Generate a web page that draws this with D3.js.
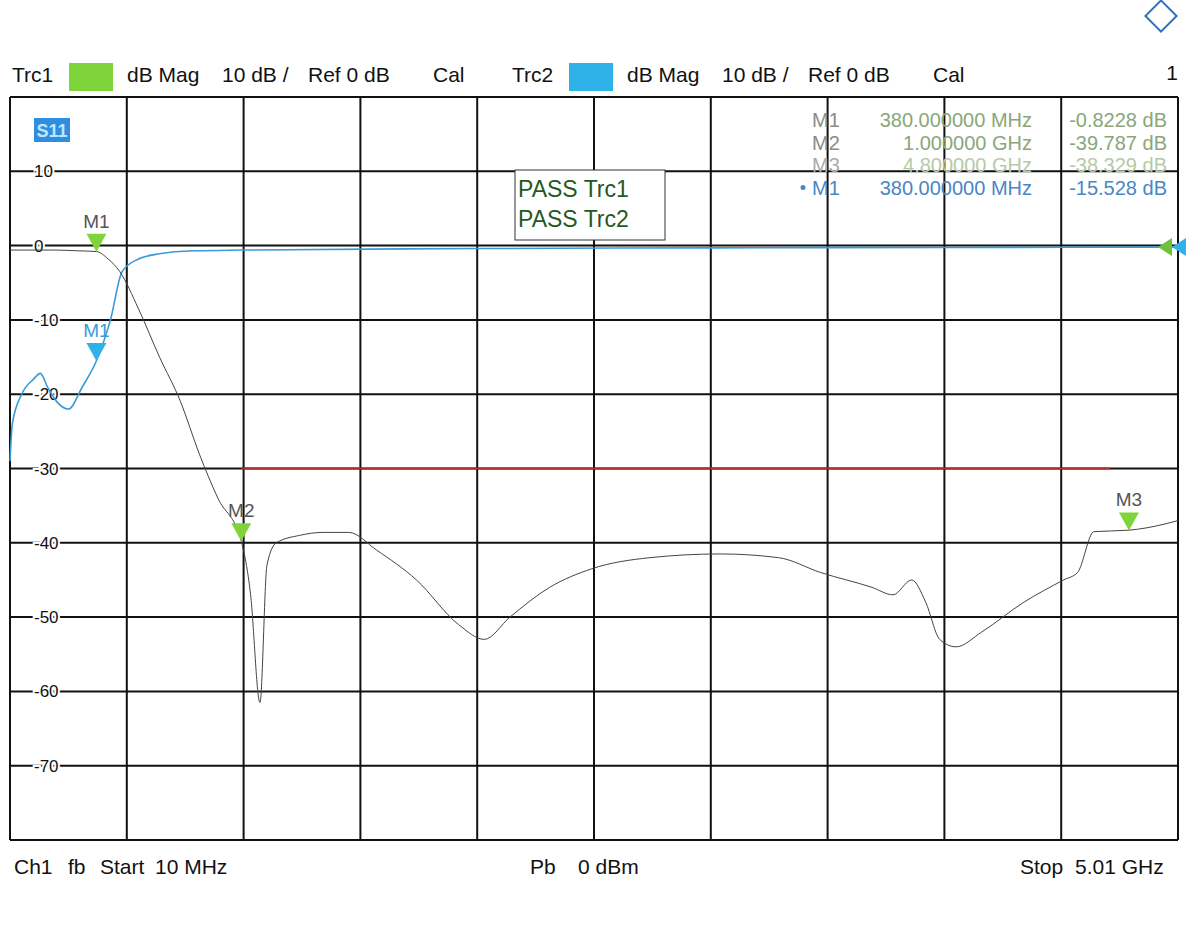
<!DOCTYPE html>
<html><head><meta charset="utf-8">
<script src="https://cdn.jsdelivr.net/npm/d3@7"></script>
<style>body{margin:0;background:#fff}text{font-family:"Liberation Sans",Arial,sans-serif}</style>
</head><body>
<script>
'use strict'
// frequency in MHz, level in dB
const trc1_f = [10,100,200,300,380,430,480,560,650,740,820,900,1000,1040,1080,1110,1150,1250,1350,1460,1580,1750,1930,2040,2150,2320,2500,2750,3050,3300,3480,3700,3790,3870,3930,3990,4060,4170,4350,4520,4580,4650,4800,4950,5010];
const trc1_db = [-0.6,-0.6,-0.6,-0.7,-0.8,-1.8,-3.5,-8.5,-15,-21,-28,-34,-39.8,-47,-61.5,-43,-40,-39,-38.6,-38.6,-41,-45,-51,-53,-50,-46,-43.5,-42,-41.5,-42,-44,-46,-47,-45,-48,-53,-54,-52,-48,-45,-44,-38.5,-38.3,-37.5,-37];
const trc2_f = [10,20,60,110,140,170,210,260,320,380,440,490,560,650,800,1000,2000,3000,4000,5010];
const trc2_db = [-29,-24,-20,-18,-17.2,-19,-21,-22,-19,-15.5,-10,-3.5,-1.8,-1.1,-0.7,-0.6,-0.4,-0.3,-0.25,-0.2];
const y_ticks = [10,0,-10,-20,-30,-40,-50,-60,-70];
const limit_f = [1000,4720], limit_db = -30;
const markers1 = [{n:'M1',f:380,db:-0.8228},{n:'M2',f:1000,db:-39.787},{n:'M3',f:4800,db:-38.329}];
const markers2 = [{n:'M1',f:380,db:-15.528}];
const table = [
  ['M1','380.000000 MHz','-0.8228 dB','#8aa67a','#8a8a8a'],
  ['M2','1.000000 GHz','-39.787 dB','#8aa67a','#8a8a8a'],
  ['M3','4.800000 GHz','-38.329 dB','#b5c9a8','#aaaaaa'],
  ['M1','380.000000 MHz','-15.528 dB','#4a86c5','#4a86c5']
];
const head_words = ['dB Mag','10 dB /','Ref 0 dB','Cal'];
const head_dx = [115,210,296,421];

const svg = d3.select('body').append('svg').attr('width',1190).attr('height',931);
const L=10, R=1178, T=97, B=840;
const x = d3.scaleLinear().domain([10,5010]).range([L,R]);
const y = d3.scaleLinear().domain([20,-80]).range([T,B]);

// header
const hdr = svg.append('g').attr('font-size',21).attr('fill','#111');
function head(x0, name, col) {
  hdr.append('text').attr('x',x0).attr('y',82).text(name);
  hdr.append('rect').attr('x',x0+57).attr('y',63).attr('width',44).attr('height',28).attr('fill',col);
  head_words.forEach((w,i)=>hdr.append('text').attr('x',x0+head_dx[i]).attr('y',82).text(w));
}
head(12,'Trc1','#7fd43b');
head(512,'Trc2','#2fb2e8');
hdr.append('text').attr('x',1178).attr('y',80).attr('text-anchor','end').text('1');
// R&S logo hint
svg.append('rect').attr('x',1150).attr('y',5).attr('width',22).attr('height',22).attr('transform','rotate(45,1161,16)')
  .attr('fill','none').attr('stroke','#2a6fc0').attr('stroke-width',2);

// grid
const grid = svg.append('g').attr('stroke','#111').attr('stroke-width',2);
grid.selectAll('.v').data(d3.range(10,5011,500)).join('line')
  .attr('x1',d=>x(d)).attr('x2',d=>x(d)).attr('y1',T).attr('y2',B);
grid.selectAll('.h').data(d3.range(20,-81,-10)).join('line')
  .attr('x1',L).attr('x2',R).attr('y1',d=>y(d)).attr('y2',d=>y(d));
svg.append('g').selectAll('text').data(y_ticks).join('text')
  .attr('x',L+24).attr('y',d=>y(d)+6).attr('font-size',17).attr('fill','#111')
  .attr('paint-order','stroke').attr('stroke','#fff').attr('stroke-width',4)
  .text(d=>d);

// limit line
svg.append('line').attr('x1',x(limit_f[0])).attr('x2',x(limit_f[1]))
  .attr('y1',y(limit_db)).attr('y2',y(limit_db)).attr('stroke','#b03030').attr('stroke-width',2);

const line = d3.line().x(d=>x(d[0])).y(d=>y(d[1])).curve(d3.curveMonotoneX);
svg.append('path').attr('d',line(d3.zip(trc2_f,trc2_db))).attr('fill','none').attr('stroke','#3a9ad8').attr('stroke-width',1.6);
svg.append('path').attr('d',line(d3.zip(trc1_f,trc1_db))).attr('fill','none').attr('stroke','#444').attr('stroke-width',1);

function mark(list, col, txtcol) {
  const g = svg.append('g').selectAll('g').data(list).join('g')
    .attr('transform',d=>`translate(${x(d.f)},${y(d.db)})`);
  g.append('path').attr('d','M-10,-18L10,-18L0,0Z').attr('fill',col);
  g.append('text').attr('y',-24).attr('text-anchor','middle').attr('font-size',19).attr('fill',txtcol).text(d=>d.n);
}
mark(markers1,'#7fd43b','#555');
mark(markers2,'#2fb2e8','#3a9ad8');
// end-of-trace arrows
svg.append('path').attr('d',`M${R-20},${y(-0.2)}L${R-6},${y(-0.2)-9}L${R-6},${y(-0.2)+9}Z`).attr('fill','#6fc23a');
svg.append('path').attr('d',`M${R-6},${y(-0.2)}L${R+8},${y(-0.2)-9}L${R+8},${y(-0.2)+9}Z`).attr('fill','#2fb2e8');

// S11 label
svg.append('rect').attr('x',34).attr('y',118).attr('width',36).attr('height',24).attr('fill','#2f8ee0');
svg.append('text').attr('x',52).attr('y',137).attr('text-anchor','middle').attr('font-size',18).attr('font-weight','bold').attr('fill','#bfe6ff').text('S11');

// PASS box
svg.append('rect').attr('x',515).attr('y',170).attr('width',150).attr('height',70).attr('fill','#fff').attr('stroke','#333');
svg.append('g').attr('font-size',23).attr('fill','#1f5a1f').selectAll('text').data(['PASS Trc1','PASS Trc2']).join('text')
  .attr('x',518).attr('y',(d,i)=>197+i*30).text(d=>d);

// marker table
const tb = svg.append('g').attr('font-size',20);
table.forEach((r,i)=>{
  const yy = 127+i*22.5;
  if (i===3) tb.append('circle').attr('cx',803).attr('cy',yy-7).attr('r',2.5).attr('fill',r[3]);
  tb.append('text').attr('x',812).attr('y',yy).attr('fill',r[4]).text(r[0]);
  tb.append('text').attr('x',1032).attr('y',yy).attr('text-anchor','end').attr('fill',r[3]).text(r[1]);
  tb.append('text').attr('x',1167).attr('y',yy).attr('text-anchor','end').attr('fill',r[3]).text(r[2]);
});

// footer
const ft = svg.append('g').attr('font-size',21).attr('fill','#111');
[['Ch1',14],['fb',68],['Start',100],['10 MHz',155],['Pb',530],['0 dBm',578],['Stop',1020],['5.01 GHz',1075]]
  .forEach(d=>ft.append('text').attr('x',d[1]).attr('y',874).text(d[0]));
</script>
</body></html>
